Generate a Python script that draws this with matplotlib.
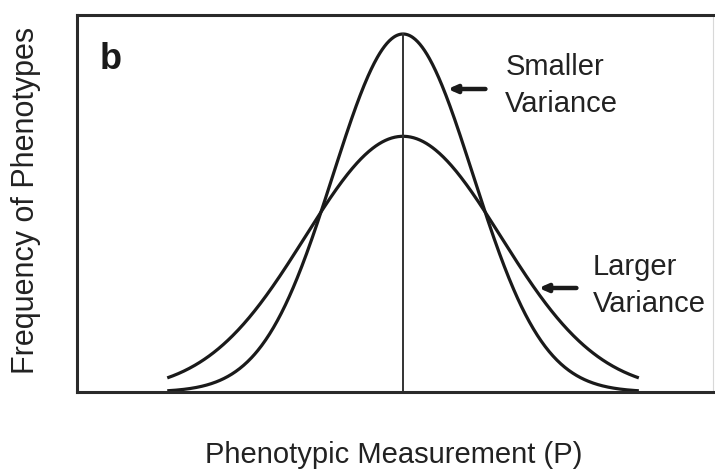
import numpy as np
import matplotlib.pyplot as plt

plt.rcParams['font.family'] = ['Liberation Sans', 'DejaVu Sans']

# two normal curves with the same mean and area, different spread
MEAN = 0.0
SD_SMALL = 1.0
SD_LARGE = 1.4
X_SPAN = 3.37          # curves are drawn out to +/- this many units
LABELS = ["Smaller\nVariance", "Larger\nVariance"]

INK = '#1a1a1a'
TXT = '#222222'


def normal_pdf(x, mu, sd):
    return np.exp(-0.5 * ((x - mu) / sd) ** 2) / (sd * np.sqrt(2 * np.pi))


def main():
    fig = plt.figure(figsize=(7.15, 4.75), dpi=100)
    ax = fig.add_axes([77 / 715, (475 - 392) / 475, 636 / 715, 377 / 475])

    x = np.linspace(MEAN - X_SPAN, MEAN + X_SPAN, 600)
    y_small = normal_pdf(x, MEAN, SD_SMALL)
    y_large = normal_pdf(x, MEAN, SD_LARGE)
    peak = normal_pdf(MEAN, MEAN, SD_SMALL)

    ax.plot(x, y_small, color=INK, lw=2.3, solid_capstyle='butt')
    ax.plot(x, y_large, color=INK, lw=2.3, solid_capstyle='butt')
    ax.plot([MEAN, MEAN], [0, peak], color='#333333', lw=1.4)

    ax.set_xlim(-4.66, 4.43)
    ax.set_ylim(0, peak * 377 / 358)
    ax.set_xticks([])
    ax.set_yticks([])

    for side in ('left', 'bottom', 'top'):
        ax.spines[side].set_linewidth(2.2)
        ax.spines[side].set_color('#2a2a2a')
    ax.spines['right'].set_linewidth(0.8)
    ax.spines['right'].set_color('#d8d8d8')

    # axis titles placed on the figure so they sit where the reference has them
    fig.text(26 / 715, 1 - 200 / 475, 'Frequency of Phenotypes', fontsize=22,
             color=TXT, rotation=90, ha='center', va='center')
    fig.text(394 / 715, 1 - 463 / 475, 'Phenotypic Measurement (P)', fontsize=21,
             color=TXT, ha='center', va='baseline')

    ax.text(0.036, 0.857, 'b', transform=ax.transAxes, fontsize=26,
            fontweight='bold', color=INK, va='baseline')

    # arrows pointing at the curves, labels to their right
    ymax = ax.get_ylim()[1]
    arrow_y = [(392 - 89) / 377 * ymax, (392 - 288) / 377 * ymax]
    sds = [SD_SMALL, SD_LARGE]
    text_x = [1.46, 2.71]
    top_y = [(392 - 75) / 377 * ymax, (392 - 275) / 377 * ymax]
    line_gap = 37 / 377 * ymax
    for lab, ay, sd, tx, ty in zip(LABELS, arrow_y, sds, text_x, top_y):
        # x on the right flank of the curve at this height
        tip = MEAN + sd * np.sqrt(-2 * np.log(ay * sd * np.sqrt(2 * np.pi)))
        ax.annotate('', xy=(tip + 0.06, ay), xytext=(tip + 0.6, ay),
                    arrowprops=dict(arrowstyle='-|>,head_length=0.5,head_width=0.22',
                                    color=INK, lw=3.2, shrinkA=0, shrinkB=0))
        for i, part in enumerate(lab.split('\n')):
            ax.text(tx, ty - i * line_gap, part, fontsize=21, color=TXT,
                    va='baseline', ha='left')

    fig.savefig('out.png', dpi=100)


if __name__ == '__main__':
    main()
